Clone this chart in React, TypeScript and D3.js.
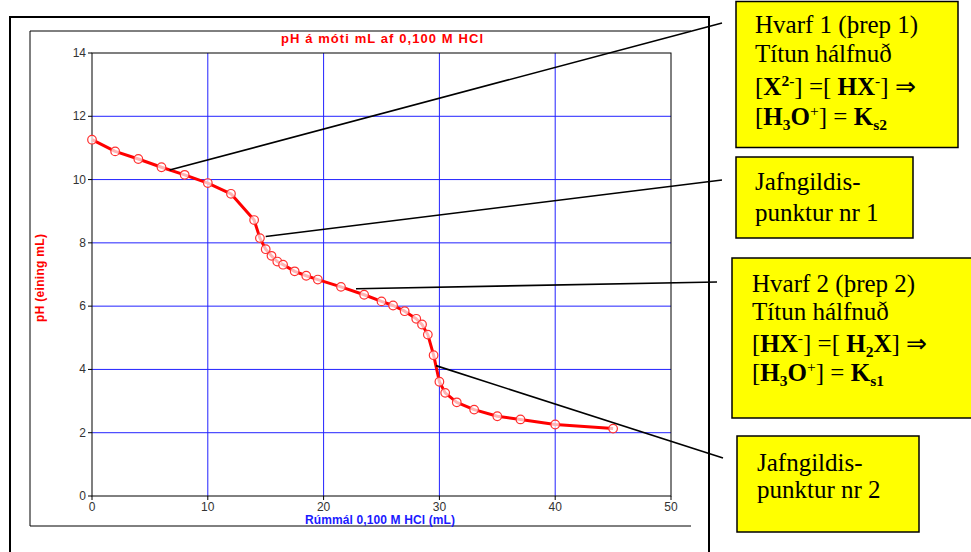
import React from "react";
import * as d3 from "d3";

// titration data: mL of 0,100 M HCl vs pH
const volume = [0, 2, 4, 6, 8, 10, 12, 14, 14.5, 15, 15.5, 16, 16.5, 17.5, 18.5, 19.5, 21.5, 23.5, 25, 26, 27, 28, 28.5, 29, 29.5, 30, 30.5, 31.5, 33, 35, 37, 40, 45];
const ph = [11.26, 10.89, 10.65, 10.39, 10.15, 9.89, 9.55, 8.72, 8.15, 7.8, 7.59, 7.41, 7.31, 7.1, 6.96, 6.84, 6.61, 6.36, 6.15, 6.02, 5.84, 5.6, 5.42, 5.1, 4.45, 3.61, 3.26, 2.96, 2.73, 2.52, 2.42, 2.26, 2.13];

const xTicks = [0, 10, 20, 30, 40, 50];
const yTicks = [0, 2, 4, 6, 8, 10, 12, 14];

const title = "pH á  móti mL af 0,100 M HCl";
const xLabel = "Rúmmál 0,100 M HCl (mL)";
const yLabel = "pH (eining mL)";

// callout anchor points on the curve (mL, pH)
const anchorVol = [6.7, 15.0, 22.8, 29.7];
const anchorPh = [10.3, 8.2, 6.55, 4.12];

const W = 971;
const H = 552;
const plot = { left: 92, right: 671, top: 53, bottom: 496 };

const serif = "'Liberation Serif', 'Times New Roman', serif";
const sans = "'Liberation Sans', Arial, sans-serif";

export default function App() {
  const x = d3.scaleLinear().domain([0, 50]).range([plot.left, plot.right]);
  const y = d3.scaleLinear().domain([0, 14]).range([plot.bottom, plot.top]);

  const pts = volume.map((v, i) => [v, ph[i]] as [number, number]);
  const line = d3.line<[number, number]>().x(d => x(d[0])).y(d => y(d[1]));

  // box ends of the callout lines (pixels)
  const calloutEnds = [[722, 23], [722, 180], [717, 282], [723, 458]];

  const fs = 25;
  const sub = { fontSize: 15.5 };
  const T = (props: any) => <text style={{ fontFamily: serif }} fontSize={fs} fill="black" {...props} />;

  return (
    <svg width={W} height={H} style={{ position: "absolute", left: 0, top: 0, background: "white" }}>
      {/* outer frame */}
      <path d="M10,552 V17 H709 V552" fill="none" stroke="black" strokeWidth={2} />
      {/* inner frame */}
      <path d="M691,31 H30 V526 H691" fill="none" stroke="black" strokeWidth={1} />

      {/* grid */}
      {xTicks.slice(1, -1).map(t => (
        <line key={"gx" + t} x1={x(t)} x2={x(t)} y1={plot.top} y2={plot.bottom} stroke="#2222ff" strokeWidth={1} />
      ))}
      {yTicks.slice(1, -1).map(t => (
        <line key={"gy" + t} x1={plot.left} x2={plot.right} y1={y(t)} y2={y(t)} stroke="#2222ff" strokeWidth={1} />
      ))}
      <rect x={plot.left} y={plot.top} width={plot.right - plot.left} height={plot.bottom - plot.top} fill="none" stroke="black" strokeWidth={1} />

      {/* ticks and labels */}
      {yTicks.map(t => (
        <g key={"ty" + t}>
          <line x1={plot.left - 4} x2={plot.left} y1={y(t)} y2={y(t)} stroke="black" />
          <text x={plot.left - 6} y={y(t) + 4} textAnchor="end" fontFamily={sans} fontSize={12} fill="#333">{t}</text>
        </g>
      ))}
      {xTicks.map(t => (
        <g key={"tx" + t}>
          <line x1={x(t)} x2={x(t)} y1={plot.bottom} y2={plot.bottom + 4} stroke="black" />
          <text x={x(t)} y={plot.bottom + 15} textAnchor="middle" fontFamily={sans} fontSize={12} fill="#333">{t}</text>
        </g>
      ))}

      <text x={382} y={43} textAnchor="middle" fontFamily={sans} fontWeight="bold" fontSize={13} textLength={202} fill="#ff0000">{title}</text>
      <text x={380} y={524} textAnchor="middle" fontFamily={sans} fontWeight="bold" fontSize={12} textLength={150} fill="#1a1aff">{xLabel}</text>
      <text transform="translate(44,278) rotate(-90)" textAnchor="middle" fontFamily={sans} fontWeight="bold" fontSize={12} textLength={88} fill="#ff0000">{yLabel}</text>

      {/* data */}
      <path d={line(pts) || ""} fill="none" stroke="#ff0000" strokeWidth={3} strokeLinejoin="round" />
      {pts.map((d, i) => (
        <circle key={"p" + i} cx={x(d[0])} cy={y(d[1])} r={4.3} fill="white" fillOpacity={0.7} stroke="#ff3030" strokeWidth={1.2} />
      ))}

      {/* callouts */}
      {anchorVol.map((v, i) => (
        <line key={"c" + i} x1={x(v)} y1={y(anchorPh[i])} x2={calloutEnds[i][0]} y2={calloutEnds[i][1]} stroke="black" strokeWidth={1.6} />
      ))}

      <rect x={736} y={1.5} width={222} height={146} fill="#ffff00" stroke="black" strokeWidth={1.5} />
      <T x={755} y={33}>Hvarf 1 (þrep 1)</T>
      <T x={755} y={62}>Títun hálfnuð</T>
      <T x={755} y={95}>
        [<tspan fontWeight="bold">X</tspan><tspan fontWeight="bold" dy={-9} style={sub}>2-</tspan><tspan dy={9}>] =[ </tspan>
        <tspan fontWeight="bold">HX</tspan><tspan dy={-9} style={sub}>-</tspan><tspan dy={9}>] ⇒</tspan>
      </T>
      <T x={755} y={125}>
        [<tspan fontWeight="bold">H</tspan><tspan fontWeight="bold" dy={5} style={sub}>3</tspan><tspan fontWeight="bold" dy={-5}>O</tspan>
        <tspan dy={-9} style={sub}>+</tspan><tspan dy={9}>] = </tspan><tspan fontWeight="bold">K</tspan>
        <tspan fontWeight="bold" dy={5} style={sub}>s2</tspan>
      </T>

      <rect x={736} y={157} width={177} height={81} fill="#ffff00" stroke="black" strokeWidth={1.5} />
      <T x={755} y={190}>Jafngildis-</T>
      <T x={755} y={221}>punktur nr 1</T>

      <rect x={732} y={258} width={245} height={160} fill="#ffff00" stroke="black" strokeWidth={1.5} />
      <T x={752} y={292}>Hvarf 2 (þrep 2)</T>
      <T x={752} y={320}>Títun hálfnuð</T>
      <T x={752} y={352}>
        [<tspan fontWeight="bold">HX</tspan><tspan dy={-9} style={sub}>-</tspan><tspan dy={9}>] =[ </tspan>
        <tspan fontWeight="bold">H</tspan><tspan fontWeight="bold" dy={5} style={sub}>2</tspan><tspan fontWeight="bold" dy={-5}>X</tspan><tspan>] ⇒</tspan>
      </T>
      <T x={752} y={381}>
        [<tspan fontWeight="bold">H</tspan><tspan fontWeight="bold" dy={5} style={sub}>3</tspan><tspan fontWeight="bold" dy={-5}>O</tspan>
        <tspan dy={-9} style={sub}>+</tspan><tspan dy={9}>] = </tspan><tspan fontWeight="bold">K</tspan>
        <tspan fontWeight="bold" dy={5} style={sub}>s1</tspan>
      </T>

      <rect x={737} y={436} width={182} height={96} fill="#ffff00" stroke="black" strokeWidth={1.5} />
      <T x={757} y={471}>Jafngildis-</T>
      <T x={757} y={498}>punktur nr 2</T>
    </svg>
  );
}
